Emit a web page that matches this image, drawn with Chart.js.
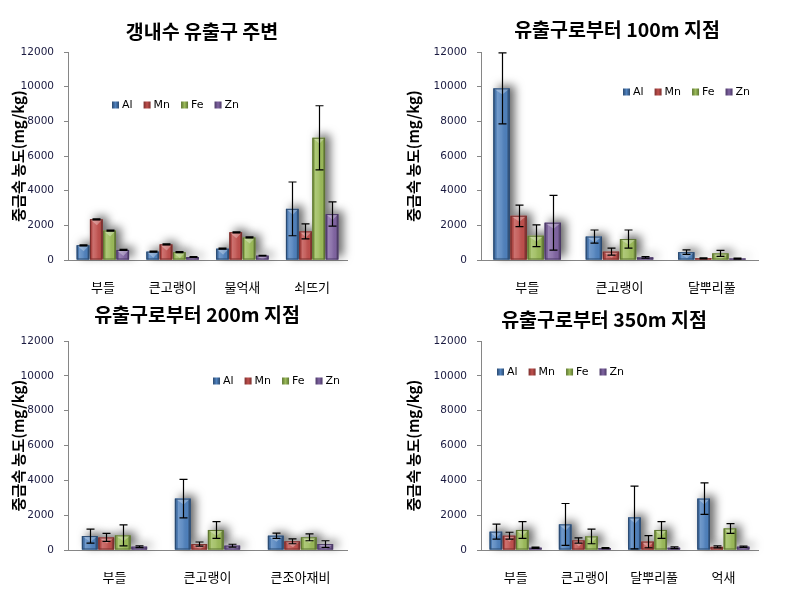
<!DOCTYPE html>
<html>
<head>
<meta charset="utf-8">
<script src="https://cdn.jsdelivr.net/npm/chart.js@4.4.0/dist/chart.umd.min.js"></script>
<style>
  body { margin: 0; background: #fff; }
  canvas { position: absolute; }
</style>
</head>
<body>
<canvas id="c1" width="395" height="300" style="left:0;top:0"></canvas>
<canvas id="c2" width="395" height="300" style="left:395px;top:0"></canvas>
<canvas id="c3" width="395" height="302" style="left:0;top:300px"></canvas>
<canvas id="c4" width="395" height="302" style="left:395px;top:300px"></canvas>
<script>
// series names
const metals = ['Al', 'Mn', 'Fe', 'Zn'];
const yTicks = [0, 2000, 4000, 6000, 8000, 10000, 12000];

// 갱내수 유출구 주변
const p1Cats = ['부들', '큰고랭이', '물억새', '쇠뜨기'];
const p1Al = [850, 480, 650, 2950];
const p1Mn = [2350, 900, 1600, 1650];
const p1Fe = [1700, 450, 1300, 7050];
const p1Zn = [580, 170, 250, 2650];
const p1AlErr = [30, 30, 30, 1550];
const p1MnErr = [30, 30, 30, 430];
const p1FeErr = [30, 30, 30, 1850];
const p1ZnErr = [30, 20, 20, 700];

// 유출구로부터 100m 지점
const p2Cats = ['부들', '큰고랭이', '달뿌리풀'];
const p2Al = [9900, 1350, 450];
const p2Mn = [2550, 480, 100];
const p2Fe = [1400, 1210, 380];
const p2Zn = [2150, 150, 80];
const p2AlErr = [2050, 380, 130];
const p2MnErr = [620, 200, 30];
const p2FeErr = [630, 520, 170];
const p2ZnErr = [1580, 50, 30];

// 유출구로부터 200m 지점
const p3Cats = ['부들', '큰고랭이', '큰조아재비'];
const p3Al = [800, 2950, 820];
const p3Mn = [720, 340, 500];
const p3Fe = [840, 1150, 730];
const p3Zn = [190, 250, 340];
const p3AlErr = [400, 1100, 150];
const p3MnErr = [230, 120, 140];
const p3FeErr = [600, 480, 200];
const p3ZnErr = [50, 80, 190];

// 유출구로부터 350m 지점
const p4Cats = ['부들', '큰고랭이', '달뿌리풀', '억새'];
const p4Al = [1050, 1470, 1870, 2950];
const p4Mn = [820, 550, 480, 180];
const p4Fe = [1150, 780, 1150, 1240];
const p4Zn = [130, 110, 130, 190];
const p4AlErr = [430, 1200, 1800, 900];
const p4MnErr = [200, 150, 350, 60];
const p4FeErr = [480, 420, 480, 280];
const p4ZnErr = [40, 30, 50, 40];

const colors = ['#4F81BD', '#C0504D', '#9BBB59', '#8064A2'];
const darks = ['#2b4a70', '#7a2f2d', '#5d7532', '#4b3966'];
const kr = '"Noto Sans CJK KR", sans-serif';

function barBox(bar) {
  const p = bar.getProps(['x', 'y', 'base', 'width'], true);
  return { l: p.x - p.width / 2, t: Math.min(p.y, p.base), w: p.width, h: Math.abs(p.base - p.y), x: p.x };
}

const barFx = {
  id: 'barFx',
  beforeDatasetsDraw(chart) {
    // soft shadow behind every bar
    const ctx = chart.ctx;
    ctx.save();
    ctx.shadowColor = 'rgba(0,0,0,0.6)';
    ctx.shadowBlur = 10;
    ctx.shadowOffsetX = 5;
    ctx.shadowOffsetY = -3;
    chart.data.datasets.forEach((ds, i) => {
      chart.getDatasetMeta(i).data.forEach(bar => {
        const b = barBox(bar);
        ctx.fillStyle = colors[i];
        ctx.fillRect(b.l, b.t, b.w, b.h);
      });
    });
    ctx.restore();
  },
  afterDatasetsDraw(chart) {
    const ctx = chart.ctx;
    const y = chart.scales.y;
    ctx.save();
    chart.data.datasets.forEach((ds, i) => {
      chart.getDatasetMeta(i).data.forEach((bar, j) => {
        const b = barBox(bar);
        if (b.h <= 0) return;
        const g = ctx.createLinearGradient(b.l, 0, b.l + b.w, 0);
        g.addColorStop(0, 'rgba(0,0,0,0.35)');
        g.addColorStop(0.14, 'rgba(0,0,0,0.05)');
        g.addColorStop(0.22, 'rgba(255,255,255,0.2)');
        g.addColorStop(0.5, 'rgba(255,255,255,0.1)');
        g.addColorStop(0.82, 'rgba(0,0,0,0.02)');
        g.addColorStop(0.88, 'rgba(0,0,0,0.25)');
        g.addColorStop(1, 'rgba(0,0,0,0.4)');
        ctx.fillStyle = g;
        ctx.fillRect(b.l, b.t, b.w, b.h);
        // top bevel
        const bh = Math.min(6, b.h);
        ctx.fillStyle = 'rgba(255,255,255,0.3)';
        ctx.beginPath();
        ctx.moveTo(b.l, b.t);
        ctx.lineTo(b.l + b.w, b.t);
        ctx.lineTo(b.l + b.w * 0.55, b.t + bh);
        ctx.closePath();
        ctx.fill();
        ctx.strokeStyle = darks[i];
        ctx.lineWidth = 1;
        ctx.strokeRect(b.l + 0.5, b.t + 0.5, b.w - 1, b.h - 1);
      });
    });
    // error bars
    ctx.strokeStyle = '#000';
    ctx.lineWidth = 1.2;
    chart.data.datasets.forEach((ds, i) => {
      chart.getDatasetMeta(i).data.forEach((bar, j) => {
        const v = ds.data[j], e = ds.errors[j];
        const x = Math.round(bar.x) + 0.5;
        const hi = y.getPixelForValue(v + e);
        const lo = y.getPixelForValue(Math.max(0, v - e));
        ctx.beginPath();
        ctx.moveTo(x, hi); ctx.lineTo(x, lo);
        ctx.moveTo(x - 4, hi); ctx.lineTo(x + 4, hi);
        ctx.moveTo(x - 4, lo); ctx.lineTo(x + 4, lo);
        ctx.stroke();
      });
    });
    ctx.restore();
  },
  afterDraw(chart) {
    const ctx = chart.ctx;
    const o = chart.options.plugins.barFx;
    ctx.save();
    // title
    ctx.fillStyle = '#000';
    ctx.font = 'bold 19.5px ' + kr;
    ctx.textAlign = 'center';
    ctx.textBaseline = 'middle';
    ctx.fillText(o.title, o.titleX, o.titleY);
    // legend
    ctx.font = '11px "DejaVu Sans", sans-serif';
    ctx.textAlign = 'left';
    let x = o.legendX;
    chart.data.datasets.forEach((ds, i) => {
      const g = ctx.createLinearGradient(x, 0, x + 7, 0);
      g.addColorStop(0, darks[i]);
      g.addColorStop(0.5, colors[i]);
      g.addColorStop(1, darks[i]);
      ctx.fillStyle = g;
      ctx.fillRect(x, o.legendY - 3.5, 7, 7);
      ctx.fillStyle = '#000';
      ctx.fillText(ds.label, x + 10, o.legendY + 0.5);
      x += 10 + ctx.measureText(ds.label).width + 11;
    });
    ctx.restore();
  }
};

function makeChart(id, cats, vals, errs, box) {
  new Chart(document.getElementById(id), {
    type: 'bar',
    data: {
      labels: cats,
      datasets: metals.map((m, i) => ({
        label: m,
        data: vals[i],
        errors: errs[i],
        backgroundColor: colors[i],
        borderWidth: 0,
        categoryPercentage: box.cp,
        barPercentage: 0.95
      }))
    },
    options: {
      responsive: false,
      animation: false,
      layout: { padding: { left: 0, top: box.top, right: box.w - box.right, bottom: 0 } },
      plugins: {
        legend: { display: false },
        tooltip: { enabled: false },
        barFx: box
      },
      scales: {
        x: {
          grid: { display: false, drawTicks: false },
          border: { color: '#868686' },
          ticks: { color: '#000', font: { family: kr, size: 13 }, padding: 19 },
          afterFit: s => { s.height = box.h - box.bottom; }
        },
        y: {
          min: 0,
          max: 12000,
          afterBuildTicks: s => { s.ticks = yTicks.map(v => ({ value: v })); },
          ticks: { color: '#1a1a40', font: { family: '"DejaVu Sans", sans-serif', size: 10.5 }, padding: 10, callback: v => String(v) },
          grid: { drawOnChartArea: false, tickLength: 4, color: '#868686' },
          border: { color: '#868686' },
          title: { display: true, text: '중금속 농도(mg/kg)', color: '#000', font: { family: kr, size: 15, weight: 'bold' }, padding: { top: 9, bottom: 0 } },
          afterFit: s => { s.width = box.left; }
        }
      }
    },
    plugins: [barFx]
  });
}

makeChart('c1', p1Cats, [p1Al, p1Mn, p1Fe, p1Zn], [p1AlErr, p1MnErr, p1FeErr, p1ZnErr],
  { w: 395, h: 300, left: 68, right: 347, top: 52, bottom: 260, cp: 0.76,
    title: '갱내수 유출구 주변', titleX: 202, titleY: 32, legendX: 112, legendY: 105 });
makeChart('c2', p2Cats, [p2Al, p2Mn, p2Fe, p2Zn], [p2AlErr, p2MnErr, p2FeErr, p2ZnErr],
  { w: 395, h: 300, left: 86, right: 363, top: 52, bottom: 260, cp: 0.74,
    title: '유출구로부터 100m 지점', titleX: 222, titleY: 30, legendX: 228, legendY: 92 });
makeChart('c3', p3Cats, [p3Al, p3Mn, p3Fe, p3Zn], [p3AlErr, p3MnErr, p3FeErr, p3ZnErr],
  { w: 395, h: 302, left: 68, right: 347, top: 41, bottom: 250, cp: 0.71,
    title: '유출구로부터 200m 지점', titleX: 197, titleY: 15, legendX: 213, legendY: 81 });
makeChart('c4', p4Cats, [p4Al, p4Mn, p4Fe, p4Zn], [p4AlErr, p4MnErr, p4FeErr, p4ZnErr],
  { w: 395, h: 302, left: 86, right: 363, top: 41, bottom: 250, cp: 0.76,
    title: '유출구로부터 350m 지점', titleX: 209, titleY: 20, legendX: 102, legendY: 72 });
</script>
</body>
</html>
